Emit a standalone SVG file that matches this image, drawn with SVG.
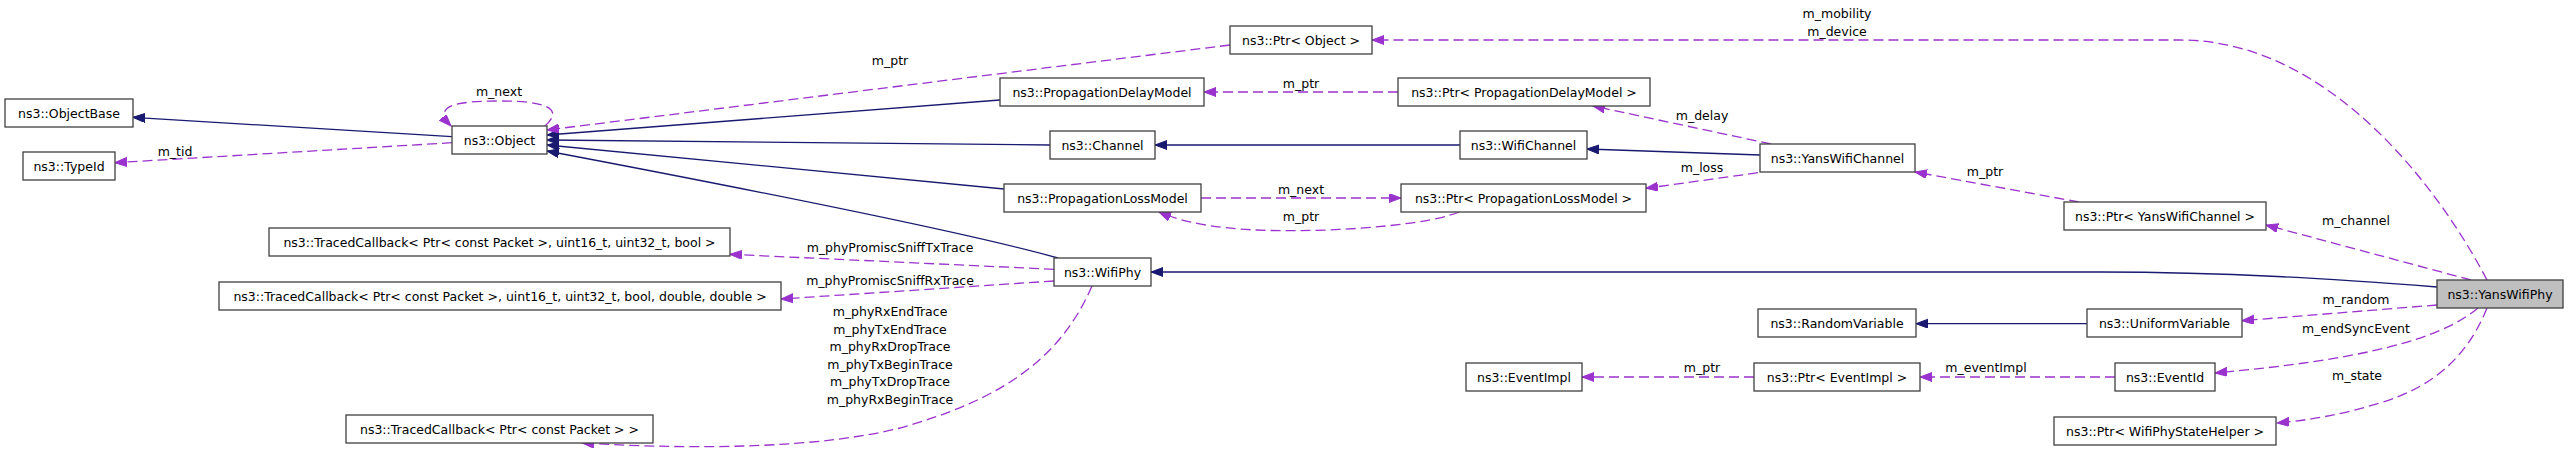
<svg xmlns="http://www.w3.org/2000/svg" width="2568" height="460" viewBox="0 0 2568 460">
<style>
.n rect{fill:#ffffff;stroke:#404040;stroke-width:1.3}
.n.hl rect{fill:#bfbfbf}
text{font-family:"DejaVu Sans","Liberation Sans",sans-serif;font-size:12.5px;fill:#000;text-anchor:middle}
.inh{fill:none;stroke:#191970;stroke-width:1.3;marker-end:url(#ah)}
.use{fill:none;stroke:#9a32cd;stroke-width:1.3;stroke-dasharray:10,5;marker-end:url(#ap)}
</style>
<defs>
<marker id="ah" markerUnits="userSpaceOnUse" markerWidth="13" markerHeight="10" refX="12" refY="4.5" orient="auto"><path d="M0,0 L12,4.5 L0,9 z" fill="#191970" stroke="#191970"/></marker>
<marker id="ap" markerUnits="userSpaceOnUse" markerWidth="13" markerHeight="10" refX="12" refY="4.5" orient="auto"><path d="M0,0 L12,4.5 L0,9 z" fill="#9a32cd" stroke="#9a32cd"/></marker>
</defs>
<rect width="2568" height="460" fill="#ffffff"/>
<g id="edges">
<path class="inh" d="M452,136.7 L133,117.3"/>
<path class="inh" d="M1000,100 L547,135"/>
<path class="inh" d="M1050,145 L547,140"/>
<path class="inh" d="M1004,189 L547,145"/>
<path class="inh" d="M1058,258 C950,228 700,180 547,151"/>
<path class="inh" d="M1460,145 L1155,145"/>
<path class="inh" d="M1760,155 L1587,149"/>
<path class="inh" d="M2437,287 C2330,279 2230,272 2100,272 L1151,272"/>
<path class="inh" d="M2087,323.7 L1916,323.7"/>
<path class="use" d="M545,126 C565,108 545,101 499,101 C455,101 432,106 451,126"/>
<path class="use" d="M452,142.7 L115,162.7"/>
<path class="use" d="M1230,45 L547,130"/>
<path class="use" d="M2487,280 C2440,190 2330,40 2180,40 L1372,40"/>
<path class="use" d="M1398,92 L1204,92"/>
<path class="use" d="M1771,144 L1593,106"/>
<path class="use" d="M1758,172.7 L1646,188.3"/>
<path class="use" d="M1201,198 L1401,198"/>
<path class="use" d="M1459,212 C1420,228 1300,234 1240,229 C1200,226 1175,219 1159,212"/>
<path class="use" d="M2079,202 L1915,172"/>
<path class="use" d="M2471,280 L2266,225"/>
<path class="use" d="M2437,305 L2242,320.7"/>
<path class="use" d="M2478,308 C2440,340 2360,360 2215,373"/>
<path class="use" d="M2487,308 C2470,350 2440,385 2380,403 C2340,415 2310,420 2277,423"/>
<path class="use" d="M2115,377 L1920,377"/>
<path class="use" d="M1754,377 L1582,377"/>
<path class="use" d="M1054,269.3 L730,254.3"/>
<path class="use" d="M1054,281 L781,299"/>
<path class="use" d="M1092,286 C1060,360 1000,400 900,428 C820,448 700,450 582,443"/>
<text x="499" y="96">m_next</text>
<text x="175" y="155.5">m_tid</text>
<text x="890" y="64.5">m_ptr</text>
<text x="1837" y="17.5">m_mobility</text>
<text x="1837" y="35.5">m_device</text>
<text x="1301" y="87.5">m_ptr</text>
<text x="1702" y="119.5">m_delay</text>
<text x="1702" y="172">m_loss</text>
<text x="1301" y="193.5">m_next</text>
<text x="1301" y="221">m_ptr</text>
<text x="1985" y="175.5">m_ptr</text>
<text x="2356" y="225">m_channel</text>
<text x="2356" y="303.5">m_random</text>
<text x="2356" y="333">m_endSyncEvent</text>
<text x="2357" y="380">m_state</text>
<text x="1986" y="372">m_eventImpl</text>
<text x="1702" y="372">m_ptr</text>
<text x="890" y="252">m_phyPromiscSniffTxTrace</text>
<text x="890" y="285">m_phyPromiscSniffRxTrace</text>
<text x="890" y="316">m_phyRxEndTrace</text>
<text x="890" y="333.5">m_phyTxEndTrace</text>
<text x="890" y="351">m_phyRxDropTrace</text>
<text x="890" y="368.5">m_phyTxBeginTrace</text>
<text x="890" y="386">m_phyTxDropTrace</text>
<text x="890" y="403.5">m_phyRxBeginTrace</text>
</g>
<g id="ObjectBase" class="n"><rect x="5" y="99" width="128" height="28"/><text x="69" y="117.5">ns3::ObjectBase</text></g>
<g id="TypeId" class="n"><rect x="23" y="152" width="92" height="28"/><text x="69" y="170.5">ns3::TypeId</text></g>
<g id="Object" class="n"><rect x="452" y="126" width="95" height="28"/><text x="499.5" y="144.5">ns3::Object</text></g>
<g id="PtrObject" class="n"><rect x="1230" y="26" width="142" height="28"/><text x="1301" y="44.5">ns3::Ptr&lt; Object &gt;</text></g>
<g id="PropagationDelayModel" class="n"><rect x="1000" y="78" width="204" height="28"/><text x="1102" y="96.5">ns3::PropagationDelayModel</text></g>
<g id="PtrPropagationDelayModel" class="n"><rect x="1398" y="78" width="252" height="28"/><text x="1524" y="96.5">ns3::Ptr&lt; PropagationDelayModel &gt;</text></g>
<g id="Channel" class="n"><rect x="1050" y="131" width="105" height="28"/><text x="1102.5" y="149.5">ns3::Channel</text></g>
<g id="WifiChannel" class="n"><rect x="1460" y="131" width="127" height="28"/><text x="1523.5" y="149.5">ns3::WifiChannel</text></g>
<g id="YansWifiChannel" class="n"><rect x="1760" y="144" width="155" height="28"/><text x="1837.5" y="162.5">ns3::YansWifiChannel</text></g>
<g id="PropagationLossModel" class="n"><rect x="1004" y="184" width="197" height="28"/><text x="1102.5" y="202.5">ns3::PropagationLossModel</text></g>
<g id="PtrPropagationLossModel" class="n"><rect x="1401" y="184" width="245" height="28"/><text x="1523.5" y="202.5">ns3::Ptr&lt; PropagationLossModel &gt;</text></g>
<g id="PtrYansWifiChannel" class="n"><rect x="2064" y="202" width="202" height="28"/><text x="2165" y="220.5">ns3::Ptr&lt; YansWifiChannel &gt;</text></g>
<g id="TracedCallbackTx" class="n"><rect x="269" y="228" width="461" height="28"/><text x="499.5" y="246.5">ns3::TracedCallback&lt; Ptr&lt; const Packet &gt;, uint16_t, uint32_t, bool &gt;</text></g>
<g id="WifiPhy" class="n"><rect x="1054" y="258" width="97" height="28"/><text x="1102.5" y="276.5">ns3::WifiPhy</text></g>
<g id="YansWifiPhy" class="n hl"><rect x="2437" y="280" width="126" height="28"/><text x="2500" y="298.5">ns3::YansWifiPhy</text></g>
<g id="TracedCallbackRx" class="n"><rect x="219" y="282" width="562" height="28"/><text x="500" y="300.5">ns3::TracedCallback&lt; Ptr&lt; const Packet &gt;, uint16_t, uint32_t, bool, double, double &gt;</text></g>
<g id="RandomVariable" class="n"><rect x="1758" y="309" width="158" height="28"/><text x="1837" y="327.5">ns3::RandomVariable</text></g>
<g id="UniformVariable" class="n"><rect x="2087" y="309" width="155" height="28"/><text x="2164.5" y="327.5">ns3::UniformVariable</text></g>
<g id="EventImpl" class="n"><rect x="1466" y="363" width="116" height="28"/><text x="1524" y="381.5">ns3::EventImpl</text></g>
<g id="PtrEventImpl" class="n"><rect x="1754" y="363" width="166" height="28"/><text x="1837" y="381.5">ns3::Ptr&lt; EventImpl &gt;</text></g>
<g id="EventId" class="n"><rect x="2115" y="363" width="100" height="28"/><text x="2165" y="381.5">ns3::EventId</text></g>
<g id="TracedCallbackPacket" class="n"><rect x="346" y="415" width="307" height="28"/><text x="499.5" y="433.5">ns3::TracedCallback&lt; Ptr&lt; const Packet &gt; &gt;</text></g>
<g id="PtrWifiPhyStateHelper" class="n"><rect x="2054" y="417" width="222" height="28"/><text x="2165" y="435.5">ns3::Ptr&lt; WifiPhyStateHelper &gt;</text></g>
</svg>
